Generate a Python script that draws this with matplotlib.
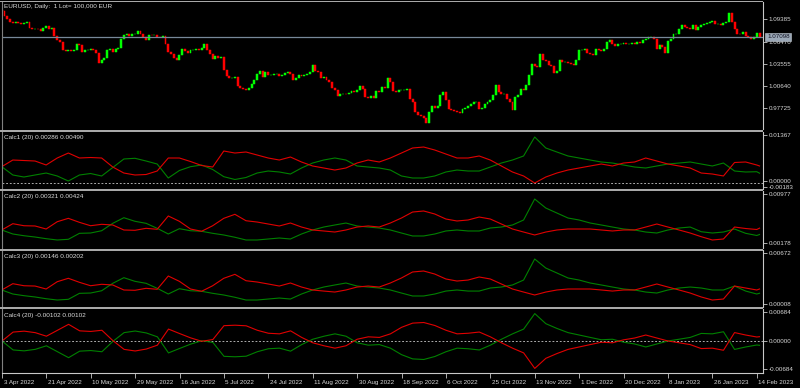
import matplotlib
matplotlib.use('Agg')
import matplotlib.pyplot as plt
import matplotlib.transforms as mtransforms
from matplotlib.patches import Rectangle
import numpy as np

plt.rcParams['font.family'] = ['Liberation Sans', 'DejaVu Sans']

# ---------------- data ----------------
title = 'EURUSD, Daily:  1 Lot= 100,000 EUR'
first_open = 1.1061
closes = [
 1.1048,1.0982,1.0938,1.0907,1.0894,1.0903,1.0885,1.0877,1.0894,1.0907,
 1.0819,1.0815,1.0815,1.0806,1.0789,1.0819,1.0850,1.0806,1.0819,1.0718,
 1.0665,1.0643,1.0534,1.0525,1.0542,1.0525,1.0534,1.0613,1.0600,1.0512,
 1.0542,1.0542,1.0555,1.0534,1.0498,1.0366,1.0410,1.0437,1.0542,1.0555,
 1.0512,1.0555,1.0569,1.0687,1.0731,1.0745,1.0718,1.0745,1.0753,1.0784,
 1.0753,1.0709,1.0665,1.0740,1.0731,1.0740,1.0709,1.0701,1.0718,1.0621,
 1.0512,1.0490,1.0437,1.0410,1.0468,1.0555,1.0525,1.0498,1.0534,1.0542,
 1.0555,1.0542,1.0569,1.0613,1.0534,1.0490,1.0424,1.0454,1.0437,1.0446,
 1.0270,1.0191,1.0173,1.0173,1.0182,1.0059,1.0041,1.0028,1.0015,1.0041,
 1.0094,1.0138,1.0226,1.0261,1.0182,1.0248,1.0204,
 1.0204,1.0217,1.0217,1.0191,1.0204,1.0235,1.0248,1.0217,1.0147,1.0173,
 1.0204,1.0191,1.0204,1.0217,1.0248,1.0336,1.0261,1.0248,1.0173,1.0182,
 1.0138,1.0116,1.0041,1.0015,0.9927,0.9962,0.9962,0.9953,0.9971,0.9997,
 0.9984,1.0006,1.0059,1.0028,0.9918,0.9909,0.9927,0.9909,0.9997,0.9984,
 1.0050,1.0041,1.0173,1.0116,0.9997,0.9984,1.0006,1.0006,1.0015,1.0028,
 0.9896,0.9852,0.9720,0.9676,0.9663,0.9645,0.9575,0.9720,0.9795,0.9777,
 0.9795,0.9940,0.9984,0.9874,0.9764,0.9742,0.9733,0.9720,0.9707,0.9764,
 0.9777,0.9795,0.9830,0.9852,0.9852,0.9764,0.9777,0.9830,0.9852,0.9874,
 0.9940,1.0072,0.9984,0.9953,0.9953,0.9896,0.9852,0.9751,0.9918,0.9940,
 1.0028,1.0006,1.0072,1.0204,
 1.0349,1.0322,1.0314,1.0481,1.0402,1.0393,1.0336,1.0322,1.0235,1.0261,
 1.0410,1.0380,1.0380,1.0366,1.0349,1.0336,1.0410,1.0534,1.0542,1.0555,
 1.0498,1.0490,1.0468,1.0555,1.0542,1.0525,1.0555,1.0643,1.0674,1.0613,
 1.0586,1.0613,1.0621,1.0630,1.0613,1.0621,1.0630,1.0621,1.0643,1.0630,
 1.0665,1.0687,1.0709,1.0709,1.0687,1.0555,1.0600,1.0578,1.0498,1.0657,
 1.0687,1.0745,1.0753,1.0806,1.0863,1.0833,1.0819,1.0806,1.0863,1.0797,
 1.0841,1.0863,1.0877,1.0894,1.0907,1.0920,1.0877,1.0877,1.0863,1.0885,
 1.0907,1.1017,1.0907,1.0806,1.0753,1.0745,1.0775,1.0718,1.0701,1.0687,
 1.0709,1.0762,1.0710,
]
bid = 1.07098
price_ticks = [1.09385, 1.06470, 1.03555, 1.00640, 0.97725]

date_labels = ['3 Apr 2022', '21 Apr 2022', '10 May 2022', '29 May 2022', '16 Jun 2022',
               '5 Jul 2022', '24 Jul 2022', '11 Aug 2022', '30 Aug 2022', '18 Sep 2022',
               '6 Oct 2022', '25 Oct 2022', '13 Nov 2022', '1 Dec 2022', '20 Dec 2022',
               '8 Jan 2023', '26 Jan 2023', '14 Feb 2023']
label_step = 16

ind_bars = list(range(0, 273, 4)) + [273]

calc1_red = [
 0.00470,0.00659,0.00645,0.00631,0.00518,0.00716,0.00857,0.00716,0.00730,0.00716,
 0.00461,0.00291,0.00235,0.00249,0.00348,0.00716,0.00716,0.00617,0.00504,0.00461,
 0.00914,0.00857,0.00886,0.00801,0.00716,0.00659,0.00744,0.00603,0.00490,0.00433,
 0.00376,0.00433,0.00574,0.00659,0.00603,0.00716,0.00857,0.00999,0.01027,0.00942,
 0.00829,0.00716,0.00716,0.00773,0.00659,0.00490,0.00320,0.00207,0.00008,0.00178,
 0.00291,0.00376,0.00433,0.00490,0.00546,0.00490,0.00574,0.00603,0.00716,0.00631,
 0.00546,0.00490,0.00433,0.00291,0.00263,0.00207,0.00589,0.00603,0.00518,
 0.00490]
calc1_green = [
 0.00470,0.00235,0.00178,0.00235,0.00291,0.00207,0.00065,0.00235,0.00277,0.00207,
 0.00447,0.00688,0.00708,0.00631,0.00546,0.00150,0.00362,0.00470,0.00518,0.00391,
 0.00187,0.00108,0.00164,0.00291,0.00348,0.00320,0.00263,0.00433,0.00574,0.00659,
 0.00716,0.00659,0.00490,0.00461,0.00433,0.00376,0.00207,0.00150,0.00150,0.00207,
 0.00320,0.00376,0.00348,0.00348,0.00461,0.00574,0.00659,0.00773,0.01310,0.00999,
 0.00886,0.00773,0.00716,0.00659,0.00603,0.00574,0.00518,0.00461,0.00433,0.00490,
 0.00546,0.00574,0.00603,0.00546,0.00490,0.00574,0.00348,0.00320,0.00328,
 0.00286]
calc2_red = [
 0.00394,0.00496,0.00463,0.00459,0.00410,0.00528,0.00583,0.00518,0.00463,0.00486,
 0.00475,0.00394,0.00389,0.00421,0.00405,0.00621,0.00535,0.00410,0.00373,0.00463,
 0.00583,0.00648,0.00544,0.00523,0.00491,0.00459,0.00507,0.00442,0.00394,0.00378,
 0.00361,0.00394,0.00442,0.00459,0.00442,0.00507,0.00588,0.00685,0.00702,0.00653,
 0.00572,0.00540,0.00556,0.00604,0.00572,0.00491,0.00410,0.00361,0.00313,0.00361,
 0.00394,0.00410,0.00410,0.00410,0.00394,0.00378,0.00394,0.00394,0.00442,0.00491,
 0.00442,0.00394,0.00345,0.00285,0.00232,0.00248,0.00442,0.00418,0.00402,
 0.00424]
calc2_green = [
 0.00394,0.00329,0.00301,0.00280,0.00253,0.00232,0.00243,0.00340,0.00345,0.00382,
 0.00502,0.00593,0.00535,0.00502,0.00421,0.00329,0.00415,0.00382,0.00373,0.00340,
 0.00313,0.00276,0.00232,0.00232,0.00248,0.00264,0.00248,0.00329,0.00394,0.00442,
 0.00475,0.00507,0.00459,0.00442,0.00426,0.00394,0.00345,0.00297,0.00297,0.00329,
 0.00378,0.00394,0.00378,0.00378,0.00426,0.00442,0.00475,0.00556,0.00896,0.00750,
 0.00669,0.00588,0.00556,0.00507,0.00475,0.00442,0.00410,0.00394,0.00361,0.00345,
 0.00394,0.00426,0.00442,0.00366,0.00345,0.00361,0.00410,0.00340,0.00305,
 0.00321]
calc3_red = [
 0.00189,0.00272,0.00245,0.00241,0.00202,0.00298,0.00343,0.00290,0.00245,0.00264,
 0.00255,0.00189,0.00185,0.00211,0.00198,0.00373,0.00303,0.00202,0.00172,0.00245,
 0.00343,0.00395,0.00311,0.00294,0.00268,0.00241,0.00281,0.00228,0.00189,0.00175,
 0.00162,0.00189,0.00228,0.00241,0.00228,0.00281,0.00347,0.00426,0.00439,0.00399,
 0.00334,0.00307,0.00320,0.00360,0.00334,0.00268,0.00202,0.00162,0.00123,0.00162,
 0.00189,0.00202,0.00202,0.00202,0.00189,0.00175,0.00189,0.00189,0.00228,0.00268,
 0.00228,0.00189,0.00149,0.00097,0.00057,0.00070,0.00241,0.00215,0.00189,
 0.00202]
calc3_green = [
 0.00189,0.00136,0.00114,0.00097,0.00074,0.00057,0.00066,0.00145,0.00149,0.00179,
 0.00277,0.00351,0.00303,0.00277,0.00211,0.00136,0.00206,0.00179,0.00172,0.00145,
 0.00123,0.00093,0.00057,0.00057,0.00070,0.00083,0.00070,0.00136,0.00189,0.00228,
 0.00255,0.00281,0.00241,0.00228,0.00215,0.00189,0.00149,0.00110,0.00110,0.00136,
 0.00175,0.00189,0.00175,0.00175,0.00215,0.00228,0.00255,0.00320,0.00597,0.00478,
 0.00413,0.00347,0.00320,0.00281,0.00255,0.00228,0.00202,0.00189,0.00162,0.00149,
 0.00189,0.00215,0.00228,0.00215,0.00189,0.00189,0.00241,0.00175,0.00136,
 0.00146]
calc4_green = [
 0.0,-0.00212,-0.00234,-0.00198,-0.00114,-0.00255,-0.00396,-0.00241,-0.00227,-0.00255,
 -0.00007,0.00199,0.00237,0.00191,0.00099,-0.00283,-0.00177,-0.00074,0.00007,-0.00035,
 -0.00364,-0.00375,-0.00361,-0.00255,-0.00184,-0.00170,-0.00241,-0.00085,0.00042,0.00113,
 0.00170,0.00113,-0.00042,-0.00099,-0.00085,-0.00170,-0.00325,-0.00425,-0.00439,-0.00368,
 -0.00255,-0.00170,-0.00184,-0.00213,-0.00099,0.00042,0.00170,0.00283,0.00651,0.00411,
 0.00298,0.00199,0.00142,0.00085,0.00029,0.00042,-0.00028,-0.00071,-0.00142,-0.00071,
 0.0,0.00042,0.00085,0.00180,0.00170,0.00220,-0.00200,-0.00142,-0.00095,
 -0.00102]
calc4_red = [-v for v in calc4_green]   # second buffer mirrors the first

panels = [
    ('Calc1 (20) 0.00286 0.00490', calc1_green, calc1_red),
    ('Calc2 (20) 0.00321 0.00424', calc2_green, calc2_red),
    ('Calc3 (20) 0.00146 0.00202', calc3_green, calc3_red),
    ('Calc4 (20) -0.00102 0.00102', calc4_green, calc4_red),
]

# ---------------- layout (pixels) ----------------
W, H = 800, 388
fig = plt.figure(figsize=(W / 100, H / 100), dpi=100, facecolor='black')
XR = 763.0


def ax_at(y0, y1, x0=2.0, x1=XR):
    a = fig.add_axes([x0 / W, 1 - y1 / H, (x1 - x0) / W, (y1 - y0) / H])
    a.set_facecolor('black')
    for s in ['top', 'bottom']:
        a.spines[s].set_visible(False)
    a.spines['left'].set_color('#808080')
    a.spines['left'].set_linewidth(0.8)
    a.spines['right'].set_color('#c8c8c8')
    a.spines['right'].set_linewidth(0.8)
    a.tick_params(axis='x', bottom=False, labelbottom=False)
    a.yaxis.tick_right()
    a.tick_params(axis='y', colors='#c8c8c8', labelcolor='#d8d8d8', length=3, width=0.6,
                  pad=1.2, labelsize=4.5, direction='out')
    return a


def px_val(y0, y1, lo, hi, ypx):
    return hi - (ypx - y0) / (y1 - y0) * (hi - lo)

TXT = '#dcdcdc'
n = len(closes)
xs = np.arange(n)
XLIM = (0.1, 274.25)

main = ax_at(2, 129.5)
main.set_xlim(*XLIM)
main.set_ylim(0.9492, 1.1167)

o = np.array([first_open] + closes[:-1])
c = np.array(closes)
cols = np.where(c >= o, '#00ff00', '#ff0000')
main.bar(xs, c - o, bottom=o, width=0.7, color=cols, edgecolor=cols, linewidth=0.35)

main.axhline(bid, color='#778899', lw=0.9, zorder=1)
main.set_yticks(price_ticks)
main.set_yticklabels(['%.5f' % v for v in price_ticks])
main.text(1 + 4 / 761, bid, '%.5f' % bid, transform=main.get_yaxis_transform(),
          fontsize=4.5, color='#101020', va='center', ha='left',
          bbox=dict(boxstyle='square,pad=0.25', fc='#9aa7b6', ec='#c0c8d0', lw=0.4),
          clip_on=False, zorder=5)

fig.text(4 / W, 1 - 6.8 / H, title, fontsize=4.6, color=TXT, va='center', ha='left')

# sub panels: (y0, y1, ylim, tick-label pixel rows, tick labels, zero line)
sub_specs = [
    (131.5, 188.5, (-0.00147, 0.01466), [135.0, 180.8, 187.2], ['0.01367', '0.00000', '-0.00183'], True),
    (190.5, 248.5, (0.00094, 0.01034), [194.0, 243.3], ['0.00977', '0.00178'], False),
    (250.5, 307.0, (-0.00035, 0.00709), [253.3, 303.7], ['0.00672', '0.00008'], False),
    (309.0, 373.0, (-0.0076, 0.0076), [311.7, 341.0, 369.3], ['0.00684', '0.00000', '-0.00684'], True),
]

axes = []
for (name, g, r), (y0, y1, yl, trows, tl, zero) in zip(panels, sub_specs):
    a = ax_at(y0, y1)
    a.set_xlim(*XLIM)
    a.set_ylim(*yl)
    if zero:
        a.axhline(0.0, color='#c8c8c8', lw=0.6, ls=(0, (2.2, 2.2)))
    a.plot(ind_bars, g, color='#008000', lw=0.8)
    a.plot(ind_bars, r, color='#e00000', lw=0.8)
    a.set_yticks([px_val(y0, y1, yl[0], yl[1], t) for t in trows])
    a.set_yticklabels(tl)
    fig.text(4 / W, 1 - (y0 + 6) / H, name, fontsize=4.6, color=TXT, va='center', ha='left')
    axes.append(a)

# bottom date axis
last = axes[-1]
last.spines['bottom'].set_visible(True)
last.spines['bottom'].set_color('#c8c8c8')
last.spines['bottom'].set_linewidth(0.8)
last.set_xticks([i * label_step for i in range(len(date_labels))])
last.set_xticklabels(date_labels)
last.tick_params(axis='x', bottom=True, labelbottom=True, colors='#c8c8c8', labelcolor='#d8d8d8',
                 length=3.5, width=0.6, pad=1.5, labelsize=4.5, direction='out')
off = mtransforms.ScaledTranslation(1.5 / 100, 0, fig.dpi_scale_trans)
for lab in last.get_xticklabels():
    lab.set_horizontalalignment('left')
    lab.set_transform(lab.get_transform() + off)

# window separators
for yy in [129.5, 188.5, 248.5, 307.0]:
    fig.patches.append(Rectangle((0, 1 - (yy + 2) / H), XR / W, 2 / H, transform=fig.transFigure,
                                 facecolor='#a8a8a8', edgecolor='none'))
fig.patches.append(Rectangle((0, 1 - 2 / H), XR / W, 1.2 / H, transform=fig.transFigure,
                             facecolor='#a8a8a8', edgecolor='none'))

fig.savefig('out.png', dpi=100, facecolor='black')
